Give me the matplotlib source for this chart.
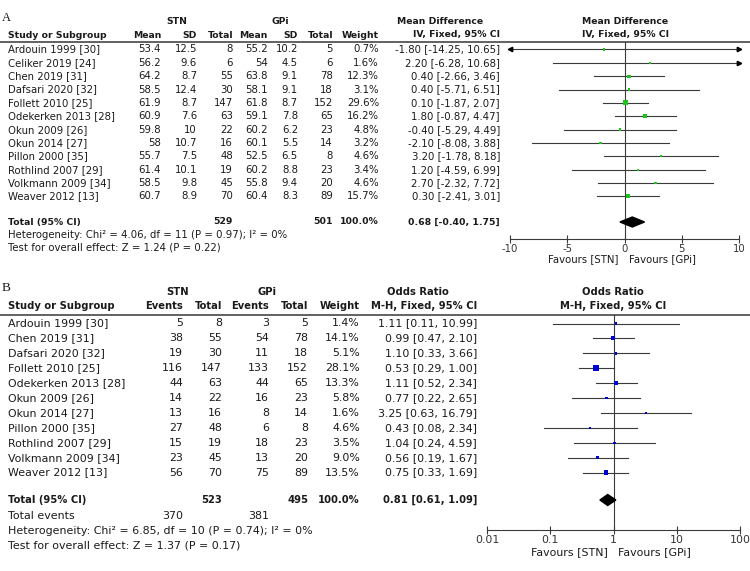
import numpy as np
import matplotlib
matplotlib.use("Agg")
import matplotlib.pyplot as plt

plt.rcParams['font.family'] = ['DejaVu Sans']
plt.rcParams['axes.unicode_minus'] = False

# ==================
# panel A: mean difference
# ==================
studies_a = ['Ardouin 1999 [30]', 'Celiker 2019 [24]', 'Chen 2019 [31]',
             'Dafsari 2020 [32]', 'Follett 2010 [25]', 'Odekerken 2013 [28]',
             'Okun 2009 [26]', 'Okun 2014 [27]', 'Pillon 2000 [35]',
             'Rothlind 2007 [29]', 'Volkmann 2009 [34]', 'Weaver 2012 [13]']
stn_mean = [53.4, 56.2, 64.2, 58.5, 61.9, 60.9, 59.8, 58, 55.7, 61.4, 58.5, 60.7]
stn_sd = [12.5, 9.6, 8.7, 12.4, 8.7, 7.6, 10, 10.7, 7.5, 10.1, 9.8, 8.9]
stn_n = [8, 6, 55, 30, 147, 63, 22, 16, 48, 19, 45, 70]
gpi_mean = [55.2, 54, 63.8, 58.1, 61.8, 59.1, 60.2, 60.1, 52.5, 60.2, 55.8, 60.4]
gpi_sd = [10.2, 4.5, 9.1, 9.1, 8.7, 7.8, 6.2, 5.5, 6.5, 8.8, 9.4, 8.3]
gpi_n = [5, 6, 78, 18, 152, 65, 23, 14, 8, 23, 20, 89]
weight_a = [0.7, 1.6, 12.3, 3.1, 29.6, 16.2, 4.8, 3.2, 4.6, 3.4, 4.6, 15.7]
md = [-1.80, 2.20, 0.40, 0.40, 0.10, 1.80, -0.40, -2.10, 3.20, 1.20, 2.70, 0.30]
md_lo = [-14.25, -6.28, -2.66, -5.71, -1.87, -0.87, -5.29, -8.08, -1.78, -4.59, -2.32, -2.41]
md_hi = [10.65, 10.68, 3.46, 6.51, 2.07, 4.47, 4.49, 3.88, 8.18, 6.99, 7.72, 3.01]
total_stn_a, total_gpi_a = 529, 501
md_total, md_total_lo, md_total_hi = 0.68, -0.40, 1.75
het_a = 'Heterogeneity: Chi² = 4.06, df = 11 (P = 0.97); I² = 0%'
test_a = 'Test for overall effect: Z = 1.24 (P = 0.22)'
ticks_a = [-10, -5, 0, 5, 10]

# ==================
# panel B: odds ratio
# ==================
studies_b = ['Ardouin 1999 [30]', 'Chen 2019 [31]', 'Dafsari 2020 [32]',
             'Follett 2010 [25]', 'Odekerken 2013 [28]', 'Okun 2009 [26]',
             'Okun 2014 [27]', 'Pillon 2000 [35]', 'Rothlind 2007 [29]',
             'Volkmann 2009 [34]', 'Weaver 2012 [13]']
stn_events = [5, 38, 19, 116, 44, 14, 13, 27, 15, 23, 56]
stn_total = [8, 55, 30, 147, 63, 22, 16, 48, 19, 45, 70]
gpi_events = [3, 54, 11, 133, 44, 16, 8, 6, 18, 13, 75]
gpi_total = [5, 78, 18, 152, 65, 23, 14, 8, 23, 20, 89]
weight_b = [1.4, 14.1, 5.1, 28.1, 13.3, 5.8, 1.6, 4.6, 3.5, 9.0, 13.5]
or_est = [1.11, 0.99, 1.10, 0.53, 1.11, 0.77, 3.25, 0.43, 1.04, 0.56, 0.75]
or_lo = [0.11, 0.47, 0.33, 0.29, 0.52, 0.22, 0.63, 0.08, 0.24, 0.19, 0.33]
or_hi = [10.99, 2.10, 3.66, 1.00, 2.34, 2.65, 16.79, 2.34, 4.59, 1.67, 1.69]
total_stn_b, total_gpi_b = 523, 495
events_stn_b, events_gpi_b = 370, 381
or_total, or_total_lo, or_total_hi = 0.81, 0.61, 1.09
het_b = 'Heterogeneity: Chi² = 6.85, df = 10 (P = 0.74); I² = 0%'
test_b = 'Test for overall effect: Z = 1.37 (P = 0.17)'
ticks_b = [0.01, 0.1, 1, 10, 100]

# ==================
# figure in pixel units
# ==================
W, H = 750, 571
fig = plt.figure(figsize=(W / 100, H / 100), dpi=100)
bg = fig.add_axes([0, 0, 1, 1])
bg.set_xlim(0, W)
bg.set_ylim(H, 0)
bg.axis('off')

TXT = '#1a1a1a'
LINE = '#3a3a3a'
FS_A = 7.3
FS_B = 7.9
BOLD_K = 0.91  # bold face in the source is narrower than DejaVu bold


def put(x, y, s, ha='left', bold=False, size=FS_A):
    bg.text(x, y, s, ha=ha, va='center', color=TXT,
            fontsize=size * BOLD_K if bold else size,
            fontweight='bold' if bold else 'normal')


def px_axes(x0, x1, y0, y1):
    ax = fig.add_axes([x0 / W, 1 - y1 / H, (x1 - x0) / W, (y1 - y0) / H])
    ax.set_ylim(y1, y0)
    ax.patch.set_alpha(0)
    for s in ['top', 'left', 'right']:
        ax.spines[s].set_visible(False)
    ax.spines['bottom'].set_color(LINE)
    ax.spines['bottom'].set_linewidth(0.8)
    ax.set_yticks([])
    return ax


def square_size(w, k):
    side_px = max(2.2, k * np.sqrt(w))
    return (side_px * 0.72) ** 2


# ---------- panel A table ----------
bg.text(2, 18, 'A', fontsize=9, family='Liberation Serif', va='center', color=TXT)
put(177, 22, 'STN', 'center', True)
put(280, 22, 'GPi', 'center', True)
put(440, 22, 'Mean Difference', 'center', True)
put(625, 22, 'Mean Difference', 'center', True)
hdr_a = [(8, 'Study or Subgroup', 'left'), (161, 'Mean', 'right'), (197, 'SD', 'right'),
         (233, 'Total', 'right'), (268, 'Mean', 'right'), (298, 'SD', 'right'),
         (333, 'Total', 'right'), (379, 'Weight', 'right'),
         (500, 'IV, Fixed, 95% CI', 'right'), (625, 'IV, Fixed, 95% CI', 'center')]
for x, s, ha in hdr_a:
    put(x, 35, s, ha, True)
bg.plot([0, W], [42, 42], color='#555555', lw=1.3)

rows_a = 49.5 + 13.35 * np.arange(len(studies_a))
for i, y in enumerate(rows_a):
    put(8, y, studies_a[i])
    put(161, y, f'{stn_mean[i]:g}', 'right')
    put(197, y, f'{stn_sd[i]:g}', 'right')
    put(233, y, f'{stn_n[i]}', 'right')
    put(268, y, f'{gpi_mean[i]:g}', 'right')
    put(298, y, f'{gpi_sd[i]:g}', 'right')
    put(333, y, f'{gpi_n[i]}', 'right')
    put(379, y, f'{weight_a[i]:.1f}%', 'right')
    put(500, y, f'{md[i]:.2f} [{md_lo[i]:.2f}, {md_hi[i]:.2f}]', 'right')

ya_tot = 222
put(8, ya_tot, 'Total (95% CI)', bold=True)
put(233, ya_tot, f'{total_stn_a}', 'right', True)
put(333, ya_tot, f'{total_gpi_a}', 'right', True)
put(379, ya_tot, '100.0%', 'right', True)
put(500, ya_tot, f'{md_total:.2f} [{md_total_lo:.2f}, {md_total_hi:.2f}]', 'right', True)
put(8, 234.5, het_a)
put(8, 247, test_a)

# ---------- panel A forest ----------
axA = px_axes(510, 739, 42, 239)
axA.set_xlim(ticks_a[0], ticks_a[-1])
axA.axvline(0, color=LINE, lw=0.8)
xmin, xmax = ticks_a[0], ticks_a[-1]
for i, y in enumerate(rows_a):
    lo, hi = max(md_lo[i], xmin), min(md_hi[i], xmax)
    axA.plot([lo, hi], [y, y], color=LINE, lw=0.8)
    if md_lo[i] < xmin:
        axA.plot(xmin, y, marker='<', ms=3.2, color='black', clip_on=False)
    if md_hi[i] > xmax:
        axA.plot(xmax, y, marker='>', ms=3.2, color='black', clip_on=False)
axA.scatter(md, rows_a, s=[square_size(w, 0.95) for w in weight_a],
            marker='s', color='#1ec41e', zorder=3, linewidths=0)
axA.fill([md_total_lo, md_total, md_total_hi, md_total],
         [ya_tot, ya_tot - 5, ya_tot, ya_tot + 5], color='black', zorder=3)
axA.set_xticks(ticks_a)
axA.set_xticklabels([f'{t}' for t in ticks_a])
axA.tick_params(axis='x', direction='inout', length=6, width=0.8, color=LINE,
                pad=0.5, labelsize=FS_A, labelcolor='#333333')
put(619, 259, 'Favours [STN]', 'right')
put(629, 259, 'Favours [GPi]', 'left')

# ---------- panel B table ----------
bg.text(2, 288, 'B', fontsize=9.5, family='Liberation Serif', va='center', color=TXT)
put(178, 292, 'STN', 'center', True, FS_B)
put(267, 292, 'GPi', 'center', True, FS_B)
put(418, 292, 'Odds Ratio', 'center', True, FS_B)
put(613, 292, 'Odds Ratio', 'center', True, FS_B)
hdr_b = [(8, 'Study or Subgroup', 'left'), (183, 'Events', 'right'), (222, 'Total', 'right'),
         (269, 'Events', 'right'), (308, 'Total', 'right'), (360, 'Weight', 'right'),
         (477, 'M-H, Fixed, 95% CI', 'right'), (613, 'M-H, Fixed, 95% CI', 'center')]
for x, s, ha in hdr_b:
    put(x, 306, s, ha, True, FS_B)
bg.plot([0, W], [315, 315], color='#555555', lw=1.3)

rows_b = 323.5 + 14.9 * np.arange(len(studies_b))
for i, y in enumerate(rows_b):
    put(8, y, studies_b[i], size=FS_B)
    put(183, y, f'{stn_events[i]}', 'right', size=FS_B)
    put(222, y, f'{stn_total[i]}', 'right', size=FS_B)
    put(269, y, f'{gpi_events[i]}', 'right', size=FS_B)
    put(308, y, f'{gpi_total[i]}', 'right', size=FS_B)
    put(360, y, f'{weight_b[i]:.1f}%', 'right', size=FS_B)
    put(477, y, f'{or_est[i]:.2f} [{or_lo[i]:.2f}, {or_hi[i]:.2f}]', 'right', size=FS_B)

yb_tot = 500
put(8, yb_tot, 'Total (95% CI)', bold=True, size=FS_B)
put(222, yb_tot, f'{total_stn_b}', 'right', True, FS_B)
put(308, yb_tot, f'{total_gpi_b}', 'right', True, FS_B)
put(360, yb_tot, '100.0%', 'right', True, FS_B)
put(477, yb_tot, f'{or_total:.2f} [{or_total_lo:.2f}, {or_total_hi:.2f}]', 'right', True, FS_B)
put(8, 516, 'Total events', size=FS_B)
put(183, 516, f'{events_stn_b}', 'right', size=FS_B)
put(269, 516, f'{events_gpi_b}', 'right', size=FS_B)
put(8, 531, het_b, size=FS_B)
put(8, 545, test_b, size=FS_B)

# ---------- panel B forest ----------
axB = px_axes(487, 740, 315, 530)
axB.set_xscale('log')
axB.set_xlim(ticks_b[0], ticks_b[-1])
axB.minorticks_off()
axB.axvline(1, color=LINE, lw=0.8)
for i, y in enumerate(rows_b):
    axB.plot([or_lo[i], or_hi[i]], [y, y], color=LINE, lw=0.8)
axB.scatter(or_est, rows_b, s=[square_size(w, 1.1) for w in weight_b],
            marker='s', color='#0000d0', zorder=3, linewidths=0)
axB.fill([or_total_lo, or_total, or_total_hi, or_total],
         [yb_tot, yb_tot - 5.5, yb_tot, yb_tot + 5.5], color='black', zorder=3)
axB.set_xticks(ticks_b)
axB.set_xticklabels([f'{t:g}' for t in ticks_b])
axB.tick_params(axis='x', direction='inout', length=6, width=0.8, color=LINE,
                pad=0.5, labelsize=FS_B, labelcolor='#333333')
put(608, 552, 'Favours [STN]', 'right', size=FS_B)
put(618, 552, 'Favours [GPi]', 'left', size=FS_B)

fig.savefig('out.png', dpi=100)
